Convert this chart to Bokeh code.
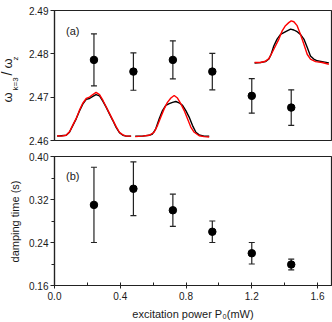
import math
from bokeh.plotting import figure
from bokeh.layouts import column, row
from bokeh.models import (ColumnDataSource, Whisker, TeeHead, Label, Range1d,
                          FixedTicker, PrintfTickFormatter)
from bokeh.embed import file_html
from bokeh.resources import INLINE

# ---------------- data ----------------
power = [0.24, 0.48, 0.72, 0.96, 1.20, 1.44]
ratio = [2.4786, 2.4759, 2.4786, 2.4759, 2.4703, 2.4676]
ratio_err = [0.0060, 0.0043, 0.0044, 0.0042, 0.0040, 0.0041]
damping = [0.310, 0.340, 0.300, 0.260, 0.220, 0.199]
damping_err = [0.070, 0.050, 0.030, 0.020, 0.020, 0.010]

c1_x = [0.016, 0.041, 0.071, 0.091, 0.112, 0.132, 0.152, 0.172, 0.193, 0.213, 0.233,
        0.253, 0.274, 0.294, 0.314, 0.335, 0.355, 0.375, 0.395, 0.416, 0.436, 0.466]
c1_black = [2.4610, 2.4611, 2.4612, 2.4619, 2.4635, 2.4650, 2.4668, 2.4684, 2.4695, 2.4697, 2.4702,
            2.4706, 2.4703, 2.4691, 2.4677, 2.4661, 2.4646, 2.4630, 2.4618, 2.4612, 2.4610, 2.4610]
c1_red = [2.4611, 2.4610, 2.4612, 2.4620, 2.4636, 2.4651, 2.4670, 2.4686, 2.4697, 2.4700, 2.4706,
          2.4711, 2.4706, 2.4693, 2.4678, 2.4662, 2.4647, 2.4632, 2.4619, 2.4613, 2.4610, 2.4610]

c2_x_black = [0.491, 0.535, 0.576, 0.596, 0.616, 0.637, 0.657, 0.677, 0.698, 0.718, 0.738,
              0.758, 0.779, 0.799, 0.819, 0.839, 0.860, 0.880, 0.910, 0.941]
c2_black = [2.4610, 2.4610, 2.4612, 2.4615, 2.4627, 2.4650, 2.4669, 2.4681, 2.4685, 2.4688, 2.4690,
            2.4687, 2.4681, 2.4669, 2.4654, 2.4635, 2.4619, 2.4613, 2.4610, 2.4610]
c2_x_red = [0.491, 0.535, 0.576, 0.606, 0.627, 0.647, 0.667, 0.687, 0.708, 0.728, 0.748,
            0.768, 0.789, 0.809, 0.829, 0.850, 0.880, 0.910, 0.941]
c2_red = [2.4609, 2.4610, 2.4612, 2.4619, 2.4635, 2.4654, 2.4673, 2.4688, 2.4698, 2.4704, 2.4698,
          2.4685, 2.4669, 2.4650, 2.4631, 2.4619, 2.4611, 2.4609, 2.4608]

c3_x_black = [1.217, 1.253, 1.283, 1.304, 1.318, 1.334, 1.354, 1.375, 1.395, 1.415, 1.436,
              1.456, 1.476, 1.496, 1.517, 1.537, 1.557, 1.577, 1.598, 1.628, 1.669]
c3_black = [2.4779, 2.4780, 2.4782, 2.4788, 2.4799, 2.4818, 2.4834, 2.4845, 2.4849, 2.4853, 2.4857,
            2.4855, 2.4851, 2.4845, 2.4834, 2.4815, 2.4795, 2.4788, 2.4784, 2.4782, 2.4779]
c3_x_red = [1.217, 1.253, 1.283, 1.304, 1.324, 1.344, 1.365, 1.385, 1.405, 1.425, 1.440,
            1.456, 1.476, 1.496, 1.517, 1.537, 1.557, 1.588, 1.628, 1.669]
c3_red = [2.4780, 2.4780, 2.4783, 2.4789, 2.4803, 2.4818, 2.4834, 2.4853, 2.4865, 2.4872, 2.4876,
          2.4874, 2.4865, 2.4845, 2.4822, 2.4799, 2.4788, 2.4782, 2.4780, 2.4776]

x_ticks = [0.0, 0.4, 0.8, 1.2, 1.6]
x_minor = [0.2, 0.6, 1.0, 1.4]
top_ticks = [2.46, 2.47, 2.48, 2.49]
bot_ticks = [0.16, 0.24, 0.32, 0.40]
bot_minor = [0.20, 0.28, 0.36]

FONT = "Liberation Sans"
TXT = "#1a1a1a"
XR = (0.0, 1.685)
STRIP = 22          # width of the strip that carries the rotated y-axis titles
TOTAL_H = 322


def style_axis(ax, size="10px"):
    ax.axis_line_color = "#222222"
    ax.major_tick_line_color = "#222222"
    ax.minor_tick_line_color = "#222222"
    ax.major_label_text_font = FONT
    ax.major_label_text_font_size = size
    ax.major_label_text_color = TXT
    ax.axis_label_text_font = FONT
    ax.axis_label_text_font_style = "normal"
    ax.axis_label_text_font_size = "11px"
    ax.axis_label_text_color = TXT


# ---------------- top panel ----------------
p1 = figure(width=332 - STRIP, height=148, output_backend="svg", toolbar_location=None,
            x_range=Range1d(*XR), y_range=Range1d(2.46, 2.49),
            min_border_left=54 - STRIP, min_border_right=1, min_border_top=10, min_border_bottom=8)
p1.xgrid.visible = False
p1.ygrid.visible = False
p1.xaxis.visible = False
p1.outline_line_color = "#222222"
p1.outline_line_width = 1.2
p1.yaxis.ticker = FixedTicker(ticks=top_ticks, minor_ticks=[])
p1.yaxis.formatter = PrintfTickFormatter(format="%.2f")
style_axis(p1.yaxis[0])
p1.yaxis.major_tick_in = 0
p1.yaxis.major_tick_out = 4
p1.yaxis.major_label_standoff = 2
p1.yaxis.axis_line_width = 1.2

p1.line(c1_x, c1_black, line_color="black", line_width=1.4)
p1.line(c1_x, c1_red, line_color="red", line_width=1.4)
p1.line(c2_x_black, c2_black, line_color="black", line_width=1.4)
p1.line(c2_x_red, c2_red, line_color="red", line_width=1.4)
p1.line(c3_x_black, c3_black, line_color="black", line_width=1.4)
p1.line(c3_x_red, c3_red, line_color="red", line_width=1.4)

src1 = ColumnDataSource(dict(x=power, y=ratio,
                             lo=[v - e for v, e in zip(ratio, ratio_err)],
                             hi=[v + e for v, e in zip(ratio, ratio_err)]))
p1.add_layout(Whisker(source=src1, base="x", lower="lo", upper="hi",
                      line_color="#222222", line_width=1.2,
                      lower_head=TeeHead(size=6, line_color="#222222", line_width=1.2),
                      upper_head=TeeHead(size=6, line_color="#222222", line_width=1.2)))
p1.scatter("x", "y", source=src1, size=7.5, color="black")

p1.add_layout(Label(x=0.07, y=2.4853, text="(a)", text_font=FONT, text_font_size="11px",
                    text_color=TXT, text_baseline="middle"))

# ---------------- bottom panel ----------------
p2 = figure(width=332 - STRIP, height=174, output_backend="svg", toolbar_location=None,
            x_range=Range1d(*XR), y_range=Range1d(0.16, 0.40),
            min_border_left=54 - STRIP, min_border_right=1, min_border_top=8, min_border_bottom=36)
p2.xgrid.visible = False
p2.ygrid.visible = False
p2.outline_line_color = "#222222"
p2.outline_line_width = 1.2
p2.xaxis.ticker = FixedTicker(ticks=x_ticks, minor_ticks=x_minor)
p2.xaxis.formatter = PrintfTickFormatter(format="%.1f")
p2.yaxis.ticker = FixedTicker(ticks=bot_ticks, minor_ticks=bot_minor)
p2.yaxis.formatter = PrintfTickFormatter(format="%.2f")
style_axis(p2.xaxis[0])
style_axis(p2.yaxis[0])
p2.xaxis.axis_label = "excitation power P\u2080(mW)"
p2.xaxis.major_tick_in = 3
p2.xaxis.major_tick_out = 3
p2.xaxis.minor_tick_in = 3
p2.xaxis.minor_tick_out = 0
p2.yaxis.major_tick_in = 0
p2.yaxis.major_tick_out = 4
p2.yaxis.minor_tick_in = 0
p2.yaxis.minor_tick_out = 3
p2.xaxis.major_label_standoff = 3
p2.xaxis.axis_label_standoff = 5
p2.yaxis.major_label_standoff = 2
p2.xaxis.axis_line_width = 1.2
p2.yaxis.axis_line_width = 1.2

src2 = ColumnDataSource(dict(x=power, y=damping,
                             lo=[v - e for v, e in zip(damping, damping_err)],
                             hi=[v + e for v, e in zip(damping, damping_err)]))
p2.add_layout(Whisker(source=src2, base="x", lower="lo", upper="hi",
                      line_color="#222222", line_width=1.2,
                      lower_head=TeeHead(size=6, line_color="#222222", line_width=1.2),
                      upper_head=TeeHead(size=6, line_color="#222222", line_width=1.2)))
p2.scatter("x", "y", source=src2, size=7.5, color="black")
p2.add_layout(Label(x=0.07, y=0.363, text="(b)", text_font=FONT, text_font_size="11px",
                    text_color=TXT, text_baseline="middle"))

# ---------------- left strip with the rotated y titles ----------------
ps = figure(width=STRIP, height=TOTAL_H, output_backend="svg", toolbar_location=None,
            x_range=Range1d(0, STRIP), y_range=Range1d(0, TOTAL_H),
            min_border=0, min_border_left=0, min_border_right=0,
            min_border_top=0, min_border_bottom=0)
ps.axis.visible = False
ps.grid.visible = False
ps.outline_line_color = None

ang = math.pi / 2
# (text, x, y-from-bottom, size)  -> omega_{k=3} / omega_z
pieces = [
    ("ω", 7, TOTAL_H - 102, "13px"),
    ("k=3", 14.5, TOTAL_H - 90, "8px"),
    ("/", 6, TOTAL_H - 75, "14px"),
    ("ω", 7, TOTAL_H - 68, "13px"),
    ("z", 14.5, TOTAL_H - 60, "8px"),
]
for t, xx, yy, fs in pieces:
    ps.add_layout(Label(x=xx, y=yy, text=t, angle=ang, text_font=FONT, text_font_size=fs,
                        text_color=TXT, text_align="left", text_baseline="middle"))
ps.add_layout(Label(x=14, y=TOTAL_H - 221, text="damping time (s)", angle=ang,
                    text_font=FONT, text_font_size="11px", text_color=TXT,
                    text_align="center", text_baseline="middle"))

layout = row(ps, column(p1, p2, spacing=0), spacing=0)
open("out.html", "w").write(file_html(layout, INLINE))
